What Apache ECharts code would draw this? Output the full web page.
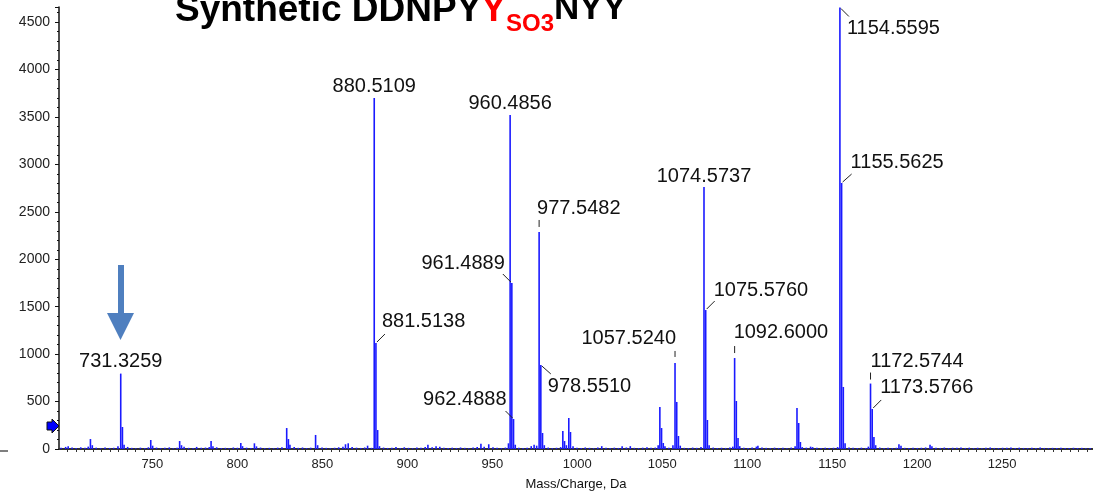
<!DOCTYPE html>
<html><head><meta charset="utf-8">
<script src="https://cdn.jsdelivr.net/npm/echarts@6/dist/echarts.min.js"></script>
<style>html,body{margin:0;padding:0;background:#fff}#c{width:1093px;height:493px}</style>
</head><body><div id="c"></div>
<script>
// Labeled peaks
const labeledMz = [731.3259, 880.5109, 881.5138, 960.4856, 961.4889, 962.4888, 977.5482, 978.5510, 1057.5240, 1074.5737, 1075.5760, 1092.6000, 1154.5595, 1155.5625, 1172.5744, 1173.5766];
const labeledIntensity = [795, 3700, 1117, 3521, 1750, 316, 2288, 886, 907, 2762, 1465, 959, 4655, 2804, 690, 422];
const labelTexts = ['731.3259', '880.5109', '881.5138', '960.4856', '961.4889', '962.4888', '977.5482', '978.5510', '1057.5240', '1074.5737', '1075.5760', '1092.6000', '1154.5595', '1155.5625', '1172.5744', '1173.5766'];
// Other visible peaks
const otherMz = [713.5, 732.33, 749.0, 766.0, 784.5, 802.0, 810.0, 829.0, 830.0, 846.0, 882.52, 979.55, 991.5, 992.5, 995.0, 996.0, 1048.6, 1049.6, 1050.6, 1058.53, 1059.53, 1076.58, 1093.6, 1094.6, 1129.3, 1130.3, 1131.3, 1156.56, 1174.58];
const otherIntensity = [105, 232, 95, 84, 84, 63, 60, 221, 105, 148, 200, 169, 190, 84, 327, 179, 443, 221, 63, 496, 137, 306, 506, 116, 432, 274, 74, 654, 127];
// Baseline noise
const noiseMz = [696.2, 698.9, 700.4, 702.7, 705.1, 707.8, 710.3, 712.2, 714.6, 716.9, 719.5, 722.1, 724.8, 727.2, 729.7, 733.3, 735.4, 737.8, 740.2, 742.9, 745.5, 747.6, 750.1, 752.4, 754.8, 757.3, 759.9, 762.2, 764.5, 767.1, 768.6, 771.3, 773.9, 776.0, 778.7, 781.2, 783.4, 785.6, 787.8, 790.5, 792.9, 795.1, 797.6, 800.0, 803.0, 805.4, 807.9, 811.2, 813.6, 816.1, 818.8, 821.3, 823.7, 826.2, 830.9, 833.4, 835.8, 838.3, 840.7, 843.1, 847.2, 849.8, 852.3, 854.7, 857.2, 859.6, 862.1, 863.6, 865.2, 867.5, 870.1, 872.6, 874.9, 876.6, 878.9, 883.6, 886.0, 888.4, 890.9, 893.3, 895.8, 898.2, 900.7, 903.1, 905.6, 908.0, 910.5, 912.1, 914.6, 916.9, 919.1, 921.5, 924.0, 926.4, 928.9, 931.3, 933.8, 936.2, 938.7, 941.1, 943.3, 945.2, 947.9, 950.4, 952.8, 955.3, 957.7, 959.5, 963.5, 965.6, 968.1, 970.5, 972.9, 974.6, 976.1, 980.6, 982.9, 985.3, 987.8, 990.2, 993.6, 997.5, 999.8, 1002.3, 1004.7, 1007.2, 1009.6, 1012.1, 1014.4, 1016.9, 1019.3, 1021.8, 1024.2, 1026.4, 1028.9, 1031.2, 1033.6, 1036.1, 1038.5, 1041.0, 1043.4, 1045.9, 1047.6, 1051.6, 1053.9, 1056.3, 1060.6, 1063.0, 1065.4, 1067.9, 1070.3, 1072.8, 1077.6, 1080.0, 1082.4, 1084.9, 1087.3, 1089.8, 1091.5, 1095.6, 1098.0, 1100.5, 1102.9, 1105.4, 1106.3, 1108.7, 1111.2, 1113.6, 1116.1, 1118.5, 1121.0, 1123.4, 1125.9, 1128.2, 1132.4, 1134.8, 1137.3, 1138.5, 1141.0, 1143.4, 1145.9, 1148.3, 1150.8, 1153.2, 1157.6, 1159.9, 1162.3, 1164.8, 1167.2, 1169.7, 1171.3, 1175.6, 1178.0, 1180.5, 1182.9, 1185.4, 1187.8, 1189.3, 1190.5, 1192.7, 1195.2, 1197.6, 1200.1, 1202.5, 1205.0, 1207.6, 1208.7, 1211.1, 1213.6, 1216.0, 1218.5, 1220.9, 1223.4, 1225.8, 1228.3, 1230.7, 1233.2, 1235.6, 1238.1, 1240.5, 1243.0, 1245.4, 1247.9, 1250.3, 1252.8, 1255.2, 1257.7, 1260.1, 1262.6, 1265.0, 1267.5, 1269.9, 1272.4, 1274.8, 1277.3, 1279.7, 1282.2, 1284.6, 1287.1, 1289.5, 1292.0, 1294.4, 1296.9, 1299.3, 1301.8];
const noiseIntensity = [12, 22, 28, 15, 10, 18, 12, 25, 40, 14, 9, 16, 11, 13, 30, 45, 22, 12, 9, 14, 11, 18, 35, 15, 10, 12, 17, 9, 14, 40, 25, 12, 10, 22, 13, 15, 20, 30, 18, 10, 12, 9, 16, 13, 30, 14, 11, 28, 15, 10, 12, 9, 14, 18, 45, 20, 12, 16, 10, 14, 40, 15, 12, 9, 13, 18, 25, 50, 60, 20, 14, 11, 16, 35, 12, 30, 15, 11, 14, 22, 10, 18, 12, 9, 15, 13, 20, 45, 18, 30, 25, 12, 10, 14, 11, 16, 12, 9, 15, 20, 55, 25, 50, 18, 12, 10, 15, 60, 45, 14, 10, 12, 30, 45, 35, 40, 15, 10, 13, 20, 40, 30, 14, 11, 16, 12, 9, 15, 30, 12, 10, 14, 11, 28, 16, 30, 12, 10, 14, 18, 12, 15, 40, 30, 14, 40, 35, 12, 10, 15, 12, 20, 40, 15, 10, 13, 11, 16, 25, 30, 14, 11, 15, 25, 35, 16, 12, 10, 14, 11, 13, 9, 15, 30, 20, 14, 25, 20, 12, 10, 14, 11, 13, 20, 60, 16, 12, 10, 14, 11, 25, 40, 15, 11, 14, 10, 13, 50, 35, 12, 10, 14, 11, 13, 16, 45, 30, 14, 11, 15, 10, 13, 12, 16, 11, 14, 10, 13, 9, 12, 15, 11, 10, 13, 12, 16, 10, 14, 11, 9, 13, 10, 15, 11, 9, 12, 10, 14, 11, 9, 13, 10, 12, 9, 11];
const xTickLabels = ['750', '800', '850', '900', '950', '1000', '1050', '1100', '1150', '1200', '1250'];

// label placement (pixel offsets from the peak top) — layout only
const labelLayout = [
  {align: 'center', dx: 0, dy: -12},
  {align: 'center', dx: 0, dy: -12},
  {align: 'left', dx: 6, dy: -22, lead: [1, -1, 9, -9]},
  {align: 'center', dx: 0, dy: -12},
  {align: 'right', dx: -7, dy: -20, lead: [-1, -1, -9, -9]},
  {align: 'right', dx: -7, dy: -20, lead: [-1, -1, -8, -8]},
  {align: 'left', dx: -2, dy: -23, lead: [0, -12, 0, -5]},
  {align: 'left', dx: 7, dy: 22, lead: [1, 1, 10, 9]},
  {align: 'right', dx: 1, dy: -24, lead: [0, -12, 0, -6]},
  {align: 'center', dx: 0, dy: -11},
  {align: 'left', dx: 8, dy: -20, lead: [1, -1, 9, -9]},
  {align: 'left', dx: -1, dy: -26, lead: [0, -12, 0, -5]},
  {align: 'left', dx: 7, dy: 21, lead: [1, 1, 9, 9]},
  {align: 'left', dx: 9, dy: -21, lead: [1, -1, 10, -9]},
  {align: 'left', dx: 0, dy: -22, lead: [0, -11, 0, -4]},
  {align: 'left', dx: 8, dy: -21, lead: [1, -1, 9, -9]}
];

const FONT = '"Liberation Sans", Arial, Helvetica, sans-serif';
const barData = [];
noiseMz.forEach((m, i) => barData.push([m, noiseIntensity[i]]));
otherMz.forEach((m, i) => barData.push([m, otherIntensity[i]]));
labeledMz.forEach((m, i) => barData.push([m, labeledIntensity[i]]));
const labelData = labeledMz.map((m, i) => [m, labeledIntensity[i]]);

const chart = echarts.init(document.getElementById('c'), null, {renderer: 'canvas'});
chart.setOption({
  animation: false,
  backgroundColor: '#fff',
  title: {
    left: 175, top: -8, padding: 0,
    text: '{a|Synthetic DDNPY}{r|Y}{s|SO3}{b|NYY}',
    textStyle: {
      rich: {
        a: {fontFamily: FONT, fontWeight: 'bold', fontSize: 37, color: '#000', lineHeight: 37, verticalAlign: 'top'},
        r: {fontFamily: FONT, fontWeight: 'bold', fontSize: 37, color: '#ff0000', lineHeight: 37, verticalAlign: 'top'},
        s: {fontFamily: FONT, fontWeight: 'bold', fontSize: 24, color: '#ff0000', lineHeight: 24, verticalAlign: 'top', padding: [20, 0, 0, 0]},
        b: {fontFamily: FONT, fontWeight: 'bold', fontSize: 35, color: '#000', lineHeight: 38.4, verticalAlign: 'top'}
      }
    }
  },
  grid: {left: 59, right: 0, top: 7, bottom: 44, containLabel: false, outerBoundsMode: 'none'},
  xAxis: {
    type: 'value', min: 695, max: 1303.5, interval: 5,
    name: 'Mass/Charge, Da', nameLocation: 'middle', nameGap: 29,
    nameTextStyle: {fontFamily: FONT, fontSize: 13, color: '#111'},
    axisLine: {lineStyle: {color: '#333', width: 2}},
    axisTick: {show: true, length: 3, lineStyle: {color: '#333'}},
    axisLabel: {
      fontFamily: FONT, fontSize: 13, color: '#222', margin: 9,
      showMinLabel: false, showMaxLabel: false,
      formatter: v => { const s = String(Math.round(v)); return (Math.abs(v - Math.round(v)) < 1e-6 && xTickLabels.includes(s)) ? s : ''; }
    },
    splitLine: {show: false}
  },
  yAxis: {
    type: 'value', min: 0, max: 4660, interval: 500,
    axisLine: {show: true, lineStyle: {color: '#111', width: 1.5}},
    axisTick: {show: true, length: 4, lineStyle: {color: '#111'}},
    minorTick: {show: true, splitNumber: 5, length: 2, lineStyle: {color: '#111'}},
    axisLabel: {fontFamily: FONT, fontSize: 14, color: '#222', margin: 9, showMaxLabel: false,
      formatter: v => (v % 500 === 0 ? String(v) : '')},
    splitLine: {show: false}
  },
  series: [
    {
      type: 'bar', name: 'spectrum', data: barData, barWidth: 1.6, barGap: '-100%',
      itemStyle: {color: '#1a1aff'}, large: false, z: 2
    },
    {
      type: 'custom', name: 'labels', data: labelData, clip: false, z: 5,
      renderItem: (params, api) => {
        const i = params.dataIndex;
        const p = api.coord([api.value(0), api.value(1)]);
        const L = labelLayout[i];
        const children = [{
          type: 'text',
          style: {text: labelTexts[i], x: p[0] + L.dx, y: p[1] + L.dy, align: L.align, verticalAlign: 'middle',
            fontFamily: FONT, fontSize: 20, fill: '#111'}
        }];
        if (L.lead) children.push({type: 'line',
          shape: {x1: p[0] + L.lead[0], y1: p[1] + L.lead[1], x2: p[0] + L.lead[2], y2: p[1] + L.lead[3]},
          style: {stroke: '#222', lineWidth: 1}});
        return {type: 'group', children};
      }
    }
  ],
  graphic: [
    {type: 'polygon', shape: {points: [[118, 265], [124, 265], [124, 313], [134, 313], [120.5, 340], [107, 313], [118, 313]]},
      style: {fill: '#4f7fbf'}, z: 10},
    {type: 'polygon', shape: {points: [[47, 422], [52, 422], [52, 419], [59, 426], [52, 433], [52, 430], [47, 430]]},
      style: {fill: '#0000ff', stroke: '#111', lineWidth: 1}, z: 10},
    {type: 'line', shape: {x1: 0, y1: 451, x2: 8, y2: 451}, style: {stroke: '#555', lineWidth: 1.5}, z: 10}
  ]
});
</script></body></html>
